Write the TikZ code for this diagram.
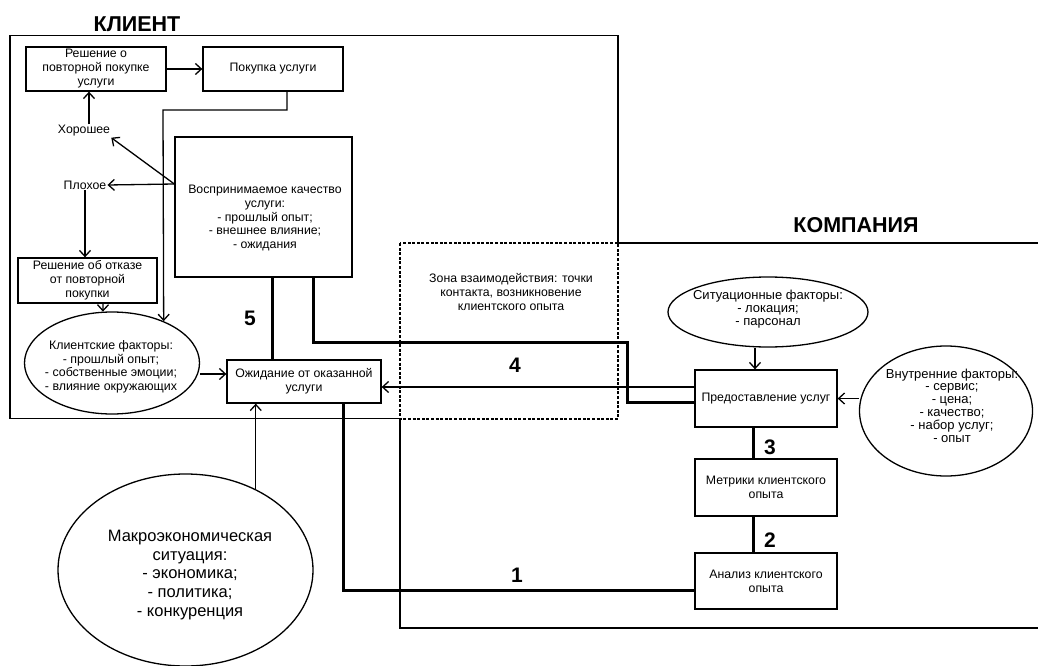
\documentclass[tikz,border=0pt]{standalone}
\usepackage{fontspec}
\setmainfont{Liberation Sans}
\usetikzlibrary{arrows.meta,shapes.geometric}
\begin{document}
\begin{tikzpicture}[x=1pt,y=-1pt,
  every node/.style={inner sep=1pt},
  txt/.style={align=center,font=\fontsize{12.3}{14}\selectfont},
  stxt/.style={align=center,font=\fontsize{13}{12.8}\selectfont},
  box/.style={draw,line width=1.3pt,txt,inner sep=2pt},
  oval/.style={draw,ellipse,line width=1.3pt,inner sep=0pt},
  thickl/.style={line width=3pt},
  arr/.style={line width=1.3pt,-{Straight Barb[length=6pt,width=11pt]}},
  frame/.style={line width=1.4pt},
  zone/.style={line width=1.2pt,dash pattern=on 3pt off 1.6pt},
  title/.style={font=\fontsize{21.5}{24}\selectfont\bfseries},
  num/.style={font=\fontsize{21}{24}\selectfont\bfseries}
]
\useasboundingbox (0,0) rectangle (1038,666);

% frames
\draw[frame] (400,418.5) -- (10,418.5) -- (10,35.5) -- (618,35.5) -- (618,243);
\draw[frame] (618,243) -- (1045,243);
\draw[frame] (1045,628) -- (400,628) -- (400,419);
\draw[zone] (400,243) rectangle (618,419);

\node[title] (tcl) at (137,24) {КЛИЕНТ};
\node[title] (tco) at (856,225) {КОМПАНИЯ};

% client nodes
\node[box,minimum width=140pt,minimum height=44pt] (b1) at (96,69) {Решение о\\повторной покупке\\услуги};
\node[box,minimum width=140pt,minimum height=44pt] (b2) at (273,69) {Покупка услуги};
\node[txt] (good) at (84,131) {Хорошее};
\node[txt] (bad) at (85,185) {Плохое};
\node[box,minimum width=139pt,minimum height=45pt] (b3) at (87.5,280.5) {Решение об отказе\\от повторной\\покупки};
\node[box,minimum width=177pt,minimum height=140pt] (perc) at (263.5,207) {};
\node[txt,font=\fontsize{12.3}{13.6}\selectfont] (perct) at (265,218) {Воспринимаемое качество\\услуги:\\- прошлый опыт;\\- внешнее влияние;\\- ожидания};
\node[oval,minimum width=175pt,minimum height=102pt] (e1) at (112,363) {};
\node[txt,font=\fontsize{12.4}{13.5}\selectfont] (e1t) at (111,367) {Клиентские факторы:\\- прошлый опыт;\\- собственные эмоции;\\- влияние окружающих};
\node[box,minimum width=154pt,minimum height=43pt] (b4) at (304,381.5) {Ожидание от оказанной\\услуги};

% zone text
\node[txt] (zt) at (511,292) {Зона взаимодействия: точки\\контакта, возникновение\\клиентского опыта};

% company nodes
\node[oval,minimum width=200pt,minimum height=70pt] (e2) at (768,312) {};
\node[stxt] (e2t) at (768,309) {Ситуационные факторы:\\- локация;\\- парсонал};
\node[box,minimum width=142pt,minimum height=57pt] (b6) at (766,398.5) {Предоставление услуг};
\node[oval,minimum width=173pt,minimum height=130pt] (e3) at (946,411) {};
\node[stxt] (e3t) at (952,405.5) {Внутренние факторы:\\- сервис;\\- цена;\\- качество;\\- набор услуг;\\- опыт};
\node[box,minimum width=142pt,minimum height=57pt] (b7) at (766,487.5) {Метрики клиентского\\опыта};
\node[box,minimum width=142pt,minimum height=56pt] (b8) at (766,581) {Анализ клиентского\\опыта};

% macro
\node[oval,minimum width=255pt,minimum height=192pt] (e4) at (185.5,570) {};
\node[align=center,font=\fontsize{16.5}{18.7}\selectfont] (e4t) at (190,575) {Макроэкономическая\\ситуация:\\- экономика;\\- политика;\\- конкуренция};

% connectors client
\draw[arr] (b1.east) -- (b2.west);
\draw[arr] ([xshift=14pt]b2.south) |- (163,110) -- (e1.39);
\draw[arr] ([xshift=5pt]good.north) -- ([xshift=5pt]good.north |- b1.south);
\draw[arr] ([yshift=23pt]perc.west) -- (good.south east);
\draw[arr] ([yshift=23pt]perc.west) -- (bad.east);
\draw[arr] (bad.south) -- (bad.south |- b3.north);
\draw[arr] ([xshift=15.5pt]b3.south) -- (e1.100);
\draw[arr] ([yshift=-11pt]e1.east) -- ([yshift=-11pt]e1.east -| b4.west);
\draw[thickl] ([xshift=8.5pt]perc.south) -- ([xshift=8.5pt]perc.south |- b4.north);
\node[num] (n5) at (250,318) {5};

% 4
\draw[thickl] ([xshift=50pt]perc.south) |- (627,342) |- ([yshift=-3.5pt]b6.west);
\draw[arr] ([yshift=11.5pt]b6.west) -- ([yshift=11.5pt]b6.west -| b4.east);
\node[num] (n4) at (515,365) {4};

% company connectors
\draw[arr] ([xshift=-11pt]b6.north |- e2.south) -- ([xshift=-11pt]b6.north);
\draw[arr] (b6.east -| e3.west) -- (b6.east);
\draw[thickl] ([xshift=-13pt]b6.south) -- ([xshift=-13pt]b7.north);
\node[num] (n3) at (770,447) {3};
\draw[thickl] ([xshift=-13pt]b7.south) -- ([xshift=-13pt]b8.north);
\node[num] (n2) at (770,540) {2};
\draw[thickl] ([xshift=39pt]b4.south) |- ([yshift=-9.5pt]b8.west);
\node[num] (n1) at (517,575) {1};

% macro arrow
\draw[arr] (e4.49.4) -- (e4.49.4 |- b4.south);
\end{tikzpicture}
\end{document}
